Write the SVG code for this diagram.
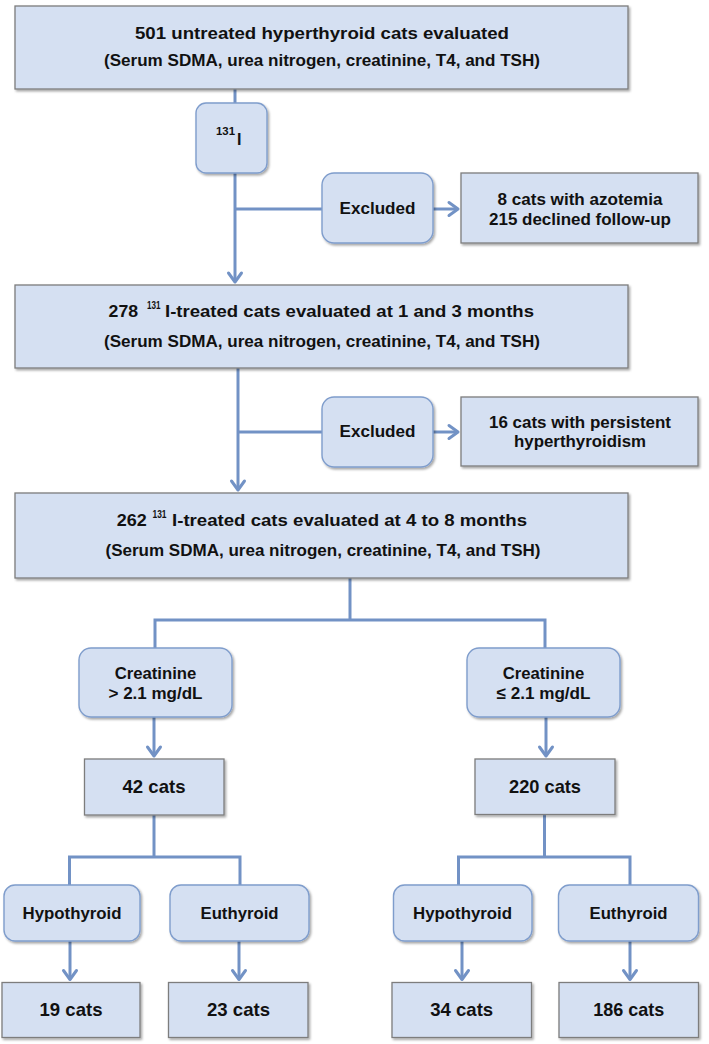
<svg xmlns="http://www.w3.org/2000/svg" width="709" height="1044" viewBox="0 0 709 1044">
<defs>
<style>
.sq{fill:#d5e0f2;stroke:#7d7d7d;stroke-width:1.3;filter:url(#sh)}
.rd{fill:#d5e0f2;stroke:#7f9dcc;stroke-width:1.4;filter:url(#sh)}
.c{fill:none;stroke:#7292c5;stroke-width:3}
.t{font-family:"Liberation Sans",Arial,Helvetica,sans-serif;font-weight:bold;fill:#111;text-anchor:middle}
.ts{font-family:"Liberation Sans",Arial,Helvetica,sans-serif;font-weight:bold;fill:#111;text-anchor:start}
</style>
<filter id="sh" x="-10%" y="-10%" width="125%" height="130%">
<feDropShadow dx="1.5" dy="1.8" stdDeviation="1.2" flood-color="#000" flood-opacity="0.35"/>
</filter>
<marker id="arr" markerUnits="userSpaceOnUse" markerWidth="24" markerHeight="24" viewBox="-12 -12 24 24" refX="0" refY="0" orient="auto" overflow="visible">
<path d="M-9,-6.5 L0,0 L-9,6.5" fill="none" stroke="#7292c5" stroke-width="3" stroke-linejoin="round" stroke-linecap="round"/>
</marker>
</defs>
<rect width="709" height="1044" fill="#ffffff"/>

<g id="connectors">
<path class="c" d="M235,89 V103"/>
<path class="c" d="M235,173 V282" marker-end="url(#arr)"/>
<path class="c" d="M235,209 H322"/>
<path class="c" d="M433,209 H458" marker-end="url(#arr)"/>
<path class="c" d="M238,368 V490" marker-end="url(#arr)"/>
<path class="c" d="M238,432 H322"/>
<path class="c" d="M433,432 H458" marker-end="url(#arr)"/>
<path class="c" d="M350,578 V620"/>
<path class="c" d="M155,648 V620 H545 V648"/>
<path class="c" d="M154,717 V756" marker-end="url(#arr)"/>
<path class="c" d="M546,717 V756" marker-end="url(#arr)"/>
<path class="c" d="M154,815 V857"/>
<path class="c" d="M69.5,885 V857 H240 V885"/>
<path class="c" d="M544.5,814 V857"/>
<path class="c" d="M458.5,885 V857 H630 V885"/>
<path class="c" d="M70,941 V979.5" marker-end="url(#arr)"/>
<path class="c" d="M239,941 V979.5" marker-end="url(#arr)"/>
<path class="c" d="M462,941 V979.5" marker-end="url(#arr)"/>
<path class="c" d="M630,941 V979.5" marker-end="url(#arr)"/>
</g>

<g id="node-untreated">
<rect class="sq" x="15" y="6" width="613" height="83"/>
<text class="t" x="322" y="38.5" font-size="17" textLength="374" lengthAdjust="spacingAndGlyphs">501 untreated hyperthyroid cats evaluated</text>
<text class="t" x="322" y="65.5" font-size="16" textLength="436" lengthAdjust="spacingAndGlyphs">(Serum SDMA, urea nitrogen, creatinine, T4, and TSH)</text>
</g>

<g id="node-i131">
<rect class="rd" x="196" y="103" width="71" height="70" rx="10"/>
<text class="ts" x="216" y="135" font-size="11" textLength="19" lengthAdjust="spacingAndGlyphs">131</text>
<text class="ts" x="237" y="144.5" font-size="16">I</text>
</g>

<g id="node-excluded1">
<rect class="rd" x="322" y="173" width="111" height="70" rx="12"/>
<text class="t" x="377.5" y="214" font-size="17" textLength="76" lengthAdjust="spacingAndGlyphs">Excluded</text>
</g>

<g id="node-excl-reasons1">
<rect class="sq" x="461" y="173" width="237" height="70"/>
<text class="t" x="580" y="205" font-size="16.5" textLength="165" lengthAdjust="spacingAndGlyphs">8 cats with azotemia</text>
<text class="t" x="580" y="224.5" font-size="16.5" textLength="182" lengthAdjust="spacingAndGlyphs">215 declined follow-up</text>
</g>

<g id="node-treated-1-3">
<rect class="sq" x="15" y="285" width="613" height="83"/>
<text class="ts" x="108.6" y="317" font-size="17" textLength="29.5" lengthAdjust="spacingAndGlyphs">278</text>
<text class="ts" x="147" y="309" font-size="11" textLength="13.5" lengthAdjust="spacingAndGlyphs">131</text>
<text class="ts" x="165" y="317" font-size="17" textLength="369" lengthAdjust="spacingAndGlyphs">I-treated cats evaluated at 1 and 3 months</text>
<text class="t" x="322" y="347" font-size="16" textLength="436" lengthAdjust="spacingAndGlyphs">(Serum SDMA, urea nitrogen, creatinine, T4, and TSH)</text>
</g>

<g id="node-excluded2">
<rect class="rd" x="322" y="397" width="111" height="70" rx="12"/>
<text class="t" x="377.5" y="437" font-size="17" textLength="76" lengthAdjust="spacingAndGlyphs">Excluded</text>
</g>

<g id="node-excl-reasons2">
<rect class="sq" x="461" y="397" width="237" height="69"/>
<text class="t" x="580" y="428" font-size="16.5" textLength="182" lengthAdjust="spacingAndGlyphs">16 cats with persistent</text>
<text class="t" x="580" y="447" font-size="16.5" textLength="132" lengthAdjust="spacingAndGlyphs">hyperthyroidism</text>
</g>

<g id="node-treated-4-8">
<rect class="sq" x="15" y="493" width="613" height="85"/>
<text class="ts" x="116.8" y="525.5" font-size="17" textLength="30" lengthAdjust="spacingAndGlyphs">262</text>
<text class="ts" x="152.5" y="517.5" font-size="11" textLength="14" lengthAdjust="spacingAndGlyphs">131</text>
<text class="ts" x="172" y="525.5" font-size="17" textLength="355" lengthAdjust="spacingAndGlyphs">I-treated cats evaluated at 4 to 8 months</text>
<text class="t" x="323" y="555.5" font-size="16" textLength="435" lengthAdjust="spacingAndGlyphs">(Serum SDMA, urea nitrogen, creatinine, T4, and TSH)</text>
</g>

<g id="node-creat-high">
<rect class="rd" x="79" y="648" width="153" height="69" rx="12"/>
<text class="t" x="155.5" y="678.5" font-size="17" textLength="81.7" lengthAdjust="spacingAndGlyphs">Creatinine</text>
<text class="t" x="155.5" y="699" font-size="17" textLength="94" lengthAdjust="spacingAndGlyphs">&gt; 2.1 mg/dL</text>
</g>

<g id="node-creat-low">
<rect class="rd" x="467" y="648" width="153" height="69" rx="12"/>
<text class="t" x="543.5" y="678.5" font-size="17" textLength="81.7" lengthAdjust="spacingAndGlyphs">Creatinine</text>
<text class="t" x="543.5" y="699" font-size="17" textLength="94" lengthAdjust="spacingAndGlyphs">≤ 2.1 mg/dL</text>
</g>

<g id="node-42">
<rect class="sq" x="84.5" y="759" width="139.5" height="56"/>
<text class="t" x="154" y="792.5" font-size="19" textLength="63" lengthAdjust="spacingAndGlyphs">42 cats</text>
</g>

<g id="node-220">
<rect class="sq" x="475" y="759" width="140" height="55.5"/>
<text class="t" x="545" y="792.5" font-size="19" textLength="72" lengthAdjust="spacingAndGlyphs">220 cats</text>
</g>

<g id="node-hypo-high">
<rect class="rd" x="4" y="885" width="136" height="56" rx="11"/>
<text class="t" x="72" y="918.8" font-size="17" textLength="99" lengthAdjust="spacingAndGlyphs">Hypothyroid</text>
</g>

<g id="node-eu-high">
<rect class="rd" x="170" y="885" width="139" height="56" rx="11"/>
<text class="t" x="239.5" y="918.8" font-size="17" textLength="78" lengthAdjust="spacingAndGlyphs">Euthyroid</text>
</g>

<g id="node-hypo-low">
<rect class="rd" x="393.5" y="885" width="138.5" height="56" rx="11"/>
<text class="t" x="462.5" y="918.8" font-size="17" textLength="99" lengthAdjust="spacingAndGlyphs">Hypothyroid</text>
</g>

<g id="node-eu-low">
<rect class="rd" x="558.5" y="885" width="140" height="56" rx="11"/>
<text class="t" x="628.5" y="918.8" font-size="17" textLength="78" lengthAdjust="spacingAndGlyphs">Euthyroid</text>
</g>

<g id="node-19">
<rect class="sq" x="2" y="982.5" width="138" height="55"/>
<text class="t" x="71" y="1015.5" font-size="19" textLength="63" lengthAdjust="spacingAndGlyphs">19 cats</text>
</g>

<g id="node-23">
<rect class="sq" x="168.5" y="982.5" width="139.5" height="55"/>
<text class="t" x="238.5" y="1015.5" font-size="19" textLength="63" lengthAdjust="spacingAndGlyphs">23 cats</text>
</g>

<g id="node-34">
<rect class="sq" x="392" y="982.5" width="139.5" height="55"/>
<text class="t" x="461.7" y="1015.5" font-size="19" textLength="63" lengthAdjust="spacingAndGlyphs">34 cats</text>
</g>

<g id="node-186">
<rect class="sq" x="559" y="982.5" width="139.5" height="55"/>
<text class="t" x="628.8" y="1015.5" font-size="19" textLength="71" lengthAdjust="spacingAndGlyphs">186 cats</text>
</g>
</svg>
